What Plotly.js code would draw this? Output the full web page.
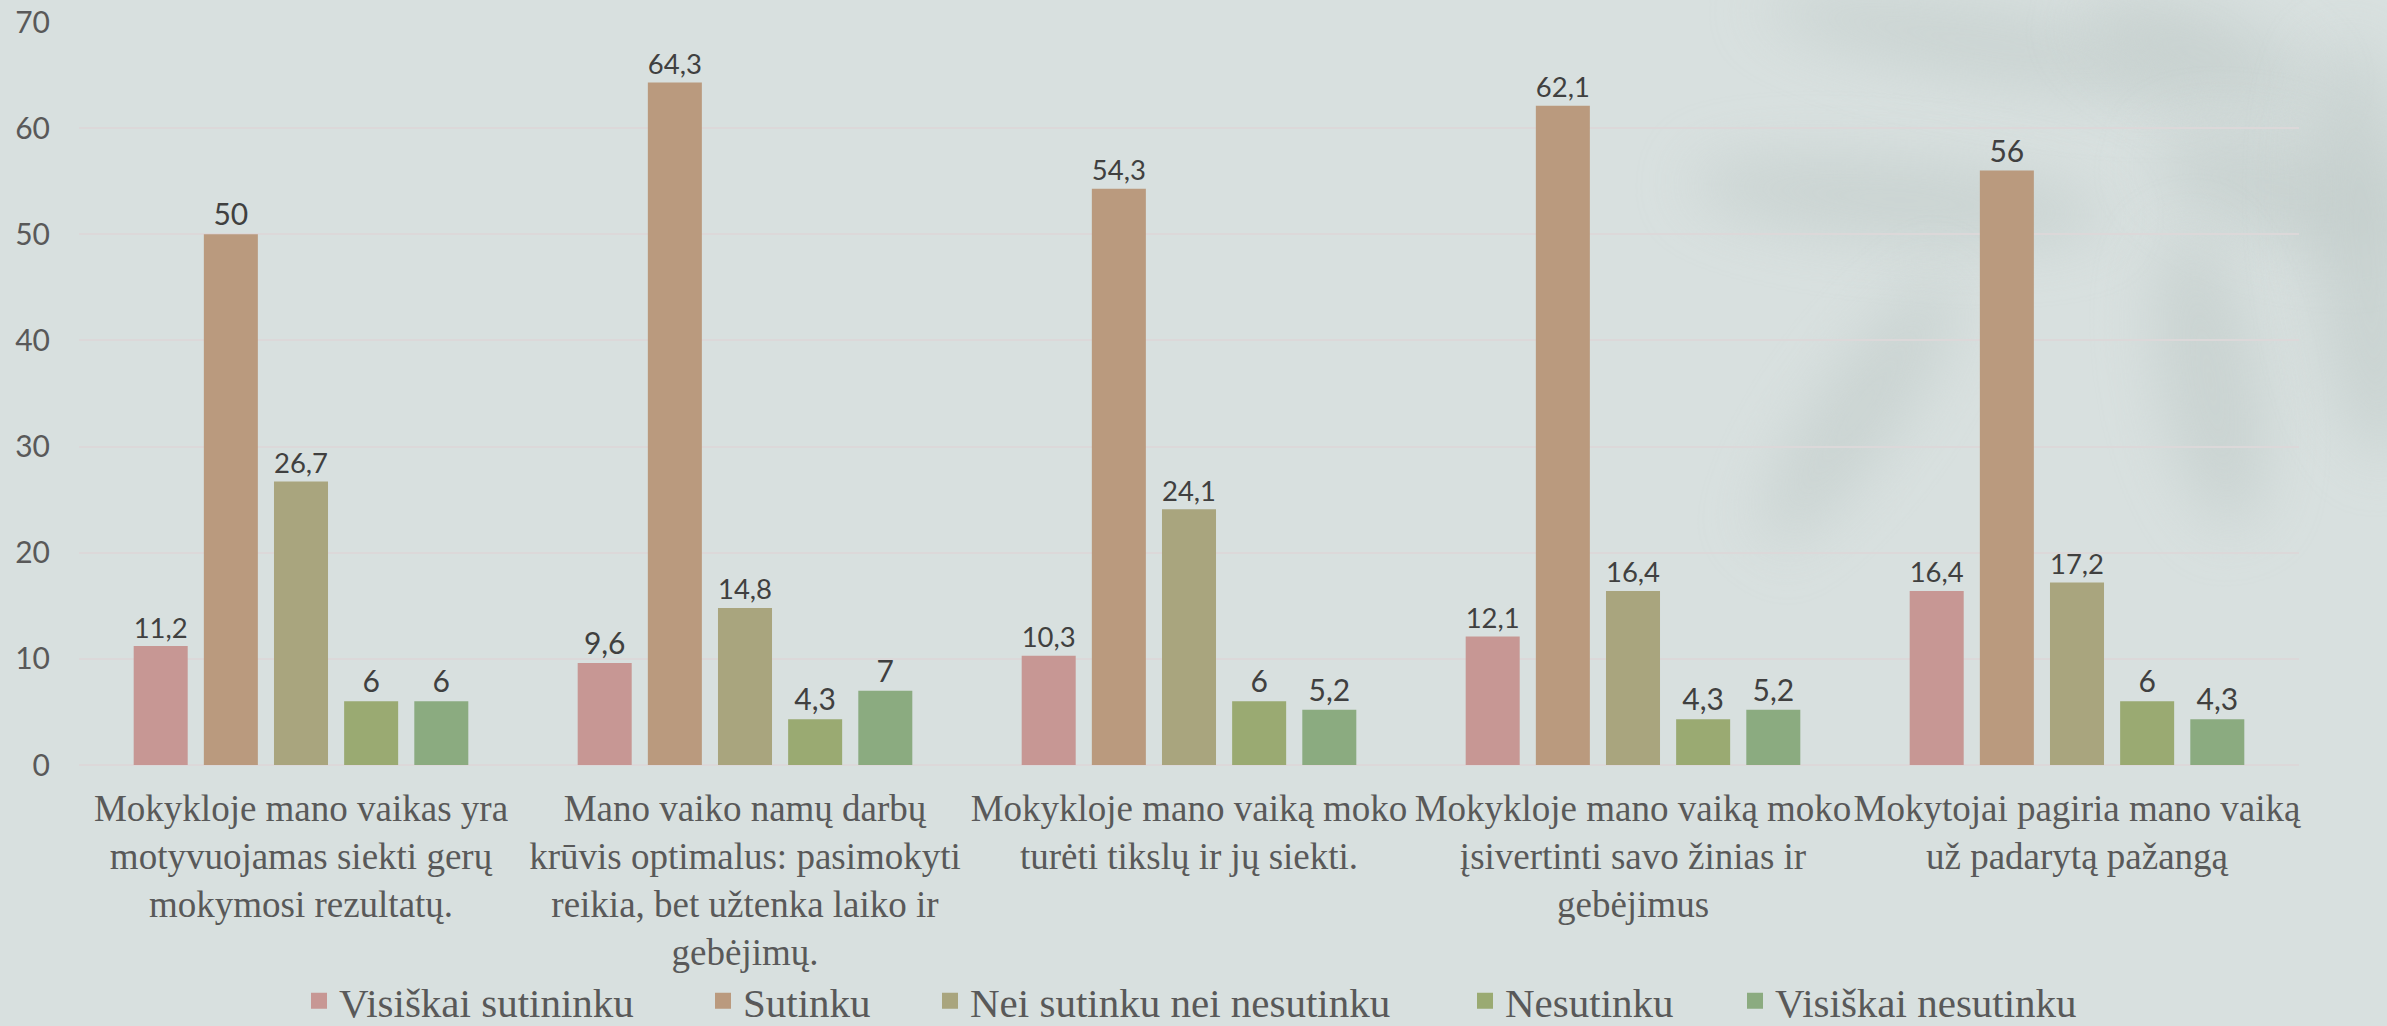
<!DOCTYPE html>
<html>
<head>
<meta charset="utf-8">
<script src="https://cdn.plot.ly/plotly-3.0.1.min.js"></script>
<style>
  html, body { margin: 0; padding: 0; width: 2387px; height: 1026px; overflow: hidden; background: #D8E0DF; }
  #bg { position: absolute; left: 0; top: 0; width: 2387px; height: 1026px; overflow: hidden; }
  .leaf { position: absolute; background: #C4CECC; border-radius: 50%; filter: blur(30px); opacity: 0.7; }
  #chart { position: absolute; left: 0; top: 0; width: 2387px; height: 1026px; }
</style>
</head>
<body>
<div id="bg">
  <div class="leaf" style="left:1760px; top:10px; width:460px; height:70px; transform: rotate(10deg);"></div>
  <div class="leaf" style="left:1690px; top:160px; width:420px; height:80px; transform: rotate(5deg);"></div>
  <div class="leaf" style="left:1820px; top:250px; width:80px; height:320px; transform: rotate(35deg);"></div>
  <div class="leaf" style="left:2080px; top:10px; width:240px; height:90px; transform: rotate(20deg);"></div>
  <div class="leaf" style="left:2150px; top:140px; width:260px; height:100px; transform: rotate(15deg);"></div>
  <div class="leaf" style="left:2160px; top:230px; width:100px; height:300px; transform: rotate(-10deg);"></div>
  <div class="leaf" style="left:2310px; top:40px; width:110px; height:420px; transform: rotate(-5deg);"></div>
</div>
<div id="chart"></div>
<script>
const categories = [
  "Mokykloje mano vaikas yra<br>motyvuojamas siekti gerų<br>mokymosi rezultatų.",
  "Mano vaiko namų darbų<br>krūvis optimalus: pasimokyti<br>reikia, bet užtenka laiko ir<br>gebėjimų.",
  "Mokykloje mano vaiką moko<br>turėti tikslų ir jų siekti.",
  "Mokykloje mano vaiką moko<br>įsivertinti savo žinias ir<br>gebėjimus",
  "Mokytojai pagiria mano vaiką<br>už padarytą pažangą"
];
const seriesNames = ["Visiškai sutininku", "Sutinku", "Nei sutinku nei nesutinku", "Nesutinku", "Visiškai nesutinku"];
const visiskaiSutinku = [11.2, 9.6, 10.3, 12.1, 16.4];
const sutinku = [50, 64.3, 54.3, 62.1, 56];
const neiSutinkuNeiNesutinku = [26.7, 14.8, 24.1, 16.4, 17.2];
const nesutinku = [6, 4.3, 6, 4.3, 6];
const visiskaiNesutinku = [6, 7, 5.2, 5.2, 4.3];
const colors = ["#C79794", "#BA9A7E", "#A9A57E", "#9AAA72", "#8BAB80"];

const seriesValues = [visiskaiSutinku, sutinku, neiSutinkuNeiNesutinku, nesutinku, visiskaiNesutinku];

const SERIF = "Liberation Serif";
const SANS = "Lato";

const legendIds = ["legend", "legend2", "legend3", "legend4", "legend5"];
const legendLeftPx = [299, 703, 930, 1465, 1735];

const barTraces = seriesValues.map((vals, i) => ({
  type: "bar",
  name: seriesNames[i],
  legendgroup: "g" + i,
  showlegend: false,
  x: categories,
  y: vals,
  marker: { color: colors[i] },
  text: vals.map(v => String(v).replace(".", ",")),
  textposition: "outside",
  textfont: { family: SANS, size: 30, color: "#404040" },
  cliponaxis: false,
  hoverinfo: "skip"
}));

// legend-only entries (larger square swatches)
const legendTraces = seriesNames.map((name, i) => ({
  type: "scatter",
  mode: "markers",
  name: name,
  legendgroup: "g" + i,
  legend: legendIds[i],
  x: [categories[0]],
  y: [null],
  marker: { symbol: "square", size: 16, color: colors[i] },
  hoverinfo: "skip"
}));

const W = 2387, H = 1026;
const layout = {
  width: W,
  height: H,
  font: { family: SERIF, size: 36, color: "#595959" },
  margin: { l: 79, r: 88, t: 22, b: 261, autoexpand: false },
  paper_bgcolor: "rgba(0,0,0,0)",
  plot_bgcolor: "rgba(0,0,0,0)",
  separators: ", ",
  barmode: "group",
  bargap: 0.21,
  bargroupgap: 0.23,
  showlegend: true,
  xaxis: {
    type: "category",
    showgrid: false,
    showline: false,
    ticks: "",
    tickangle: 0,
    automargin: false,
    tickfont: { family: SERIF, size: 37, color: "#595959" },
    ticklabelstandoff: 18
  },
  yaxis: {
    range: [0, 70],
    dtick: 10,
    showgrid: true,
    gridcolor: "#DCD8D9",
    gridwidth: 2,
    zeroline: true,
    zerolinecolor: "#DCD8D9",
    zerolinewidth: 2,
    showline: false,
    ticks: "",
    automargin: false,
    tickfont: { family: SANS, size: 30, color: "#595959" },
    ticklabelstandoff: 28
  }
};

legendIds.forEach((id, i) => {
  layout[id] = {
    orientation: "h",
    xref: "container", yref: "container",
    x: legendLeftPx[i] / W, xanchor: "left",
    y: 1 - 1001 / H, yanchor: "middle",
    font: { family: SERIF, size: 41, color: "#595959" },
    itemwidth: 30,
    bgcolor: "rgba(0,0,0,0)",
    borderwidth: 0
  };
});

Plotly.newPlot("chart", barTraces.concat(legendTraces), layout, { displayModeBar: false, staticPlot: true });
</script>
</body>
</html>
